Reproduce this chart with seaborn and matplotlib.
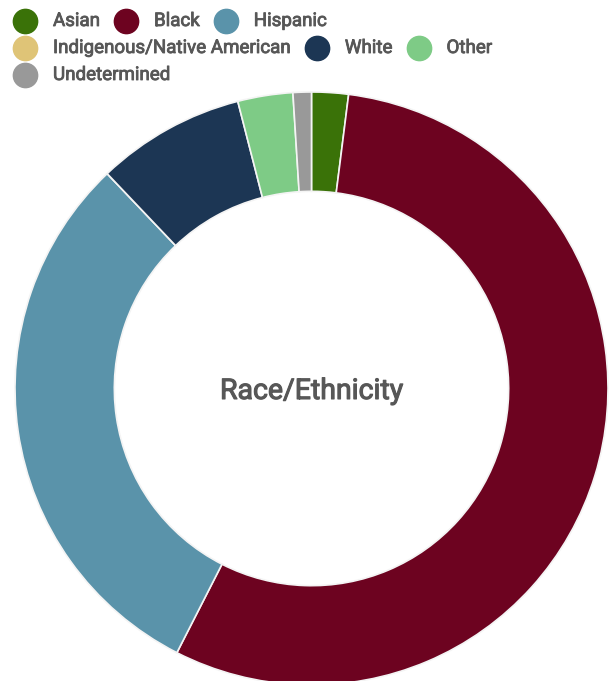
import matplotlib
matplotlib.use("Agg")
import matplotlib.pyplot as plt
import matplotlib.patheffects as pe
import seaborn as sns

# Share of each race/ethnicity group (percent)
groups = ["Asian", "Black", "Hispanic", "Indigenous/Native American",
          "White", "Other", "Undetermined"]
shares = [2.0, 55.5, 30.4, 0.0, 8.1, 3.0, 1.0]
colors = ["#3a7208", "#6d0320", "#5a93aa", "#dfc477",
          "#1c3654", "#7ecb86", "#999999"]
legend_rows = [["Asian", "Black", "Hispanic"],
               ["Indigenous/Native American", "White", "Other"],
               ["Undetermined"]]
center_label = "Race/Ethnicity"

sns.set_theme(style="white")
plt.rcParams["font.family"] = ["Roboto", "DejaVu Sans"]
palette = dict(zip(groups, sns.color_palette(colors)))

W, H = 610, 681
fig = plt.figure(figsize=(W / 100, H / 100), dpi=100)

# Slightly heavier strokes to get a medium-weight look
text_color = "#575757"
medium = [pe.withStroke(linewidth=0.6, foreground=text_color)]

# Donut chart
ax = fig.add_axes([15 / W, -4 / H, 593 / W, 593 / H])
ax.pie(shares, colors=[palette[g] for g in groups], startangle=90,
       counterclock=False, radius=1.0,
       wedgeprops=dict(width=0.335, edgecolor="#f4f4f4", linewidth=1.2))
ax.set_xlim(-1, 1)
ax.set_ylim(-1, 1)
ax.set_aspect("equal")
ax.axis("off")
ax.text(0, -0.01, center_label, ha="center", va="center", fontsize=20.5,
        color=text_color, path_effects=[pe.withStroke(linewidth=0.8,
                                                      foreground=text_color)])

# Flowing legend laid out in pixel coordinates
lax = fig.add_axes([0, 0, 1, 1])
lax.set_xlim(0, W)
lax.set_ylim(H, 0)
lax.axis("off")
fig.canvas.draw()
renderer = fig.canvas.get_renderer()
row_y = [21, 48, 75]
for row, y in zip(legend_rows, row_y):
    x = 13
    for name in row:
        lax.plot([x + 12], [y], marker="o", markersize=17.5,
                 color=palette[name], linestyle="none")
        t = lax.text(x + 40, y, name, ha="left", va="center",
                     fontsize=13.5, color=text_color, path_effects=medium)
        bb = t.get_window_extent(renderer=renderer)
        x = x + 40 + bb.width + 14

fig.savefig("out.png", dpi=100)
